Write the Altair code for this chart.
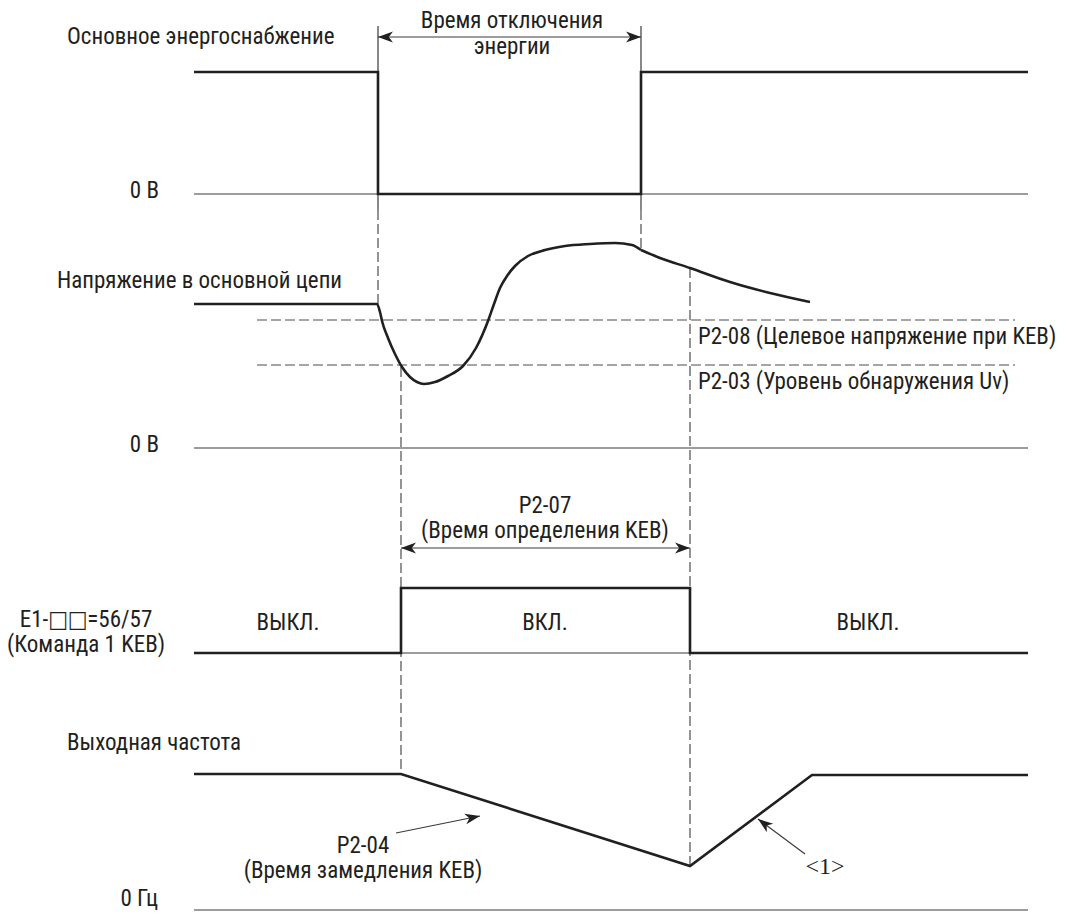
import math
import altair as alt
import pandas as pd

# ---------------- data (diagram coordinates: x = time, y grows downward) ----------------
power_x = [194, 378, 378, 641, 641, 1028]
power_y = [72, 72, 194, 194, 72, 72]

volt_a_x = [194, 377, 380, 382, 388, 395, 402, 410, 417, 424, 435, 448, 463, 476, 488, 494, 500, 507, 515, 528, 545, 565, 590, 615, 632, 641]
volt_a_y = [304, 304, 312, 321, 338, 354, 367, 377, 382, 384, 382, 376, 366, 348, 321, 304, 288, 276, 266, 256, 250, 246, 244, 243, 245, 250]
volt_b_x = [641, 660, 690, 730, 770, 810]
volt_b_y = [250, 258, 268, 282, 293, 302]

keb_x = [194, 401, 401, 690, 690, 1028]
keb_y = [653, 653, 588, 588, 653, 653]

freq_x = [194, 401, 690, 812, 1028]
freq_y = [774, 774, 866, 775, 775]

zero_levels = [194, 448, 653, 910]
zero_start, zero_end = 194, 1028

levels_y = [320, 365]          # P2-08, P2-03
levels_x = [257, 1015]

solid_v = [(378, 26, 210), (641, 26, 210)]
dashed_v = [(378, 210, 304), (641, 210, 250), (401, 367, 774), (690, 268, 866)]

arrows = [  # x1, y1, x2, y2, both_heads
    (378, 37, 641, 37, True),
    (401, 548, 690, 548, True),
    (396, 833, 480, 816, False),
    (805, 854, 758, 819, False),
]

labels_left = [
    ("Основное энергоснабжение", 67, 37),
    ("Напряжение в основной цепи", 57, 281),
    ("P2-08 (Целевое напряжение при KEB)", 698, 337),
    ("P2-03 (Уровень обнаружения Uv)", 698, 382),
    ("Выходная частота", 67, 743),
]
labels_center = [
    ("Время отключения", 512, 21),
    ("энергии", 512, 47),
    ("P2-07", 545, 506),
    ("(Время определения KEB)", 545, 531),
    ("E1-□□=56/57", 86, 620),
    ("(Команда 1 KEB)", 86, 645),
    ("ВЫКЛ.", 288, 623),
    ("ВКЛ.", 545, 623),
    ("ВЫКЛ.", 868, 623),
    ("P2-04", 363, 846),
    ("(Время замедления KEB)", 363, 871),
]
labels_right = [
    ("0 В", 159, 191),
    ("0 В", 159, 445),
    ("0 Гц", 158, 899),
]
labels_serif = [("<1>", 825, 867)]

# ---------------- build tables ----------------
W, H = 1053, 904
xs = alt.Scale(domain=[8, 8 + W], nice=False, zero=False)
ys = alt.Scale(domain=[8, 8 + H], nice=False, zero=False, reverse=True)

FONT = "Roboto Condensed, Liberation Sans Narrow, DejaVu Sans Condensed, sans-serif"
INK = "#231f20"
THIN = "#3a3a3a"
DASH = "#4d4d4d"
FS = 23


def trace(name, xv, yv):
    return pd.DataFrame({"series": name, "i": range(len(xv)), "x": xv, "y": yv})


steps = pd.concat([
    trace("power", power_x, power_y),
    trace("keb", keb_x, keb_y),
    trace("freq", freq_x, freq_y),
])
curves = pd.concat([
    trace("va", volt_a_x, volt_a_y),
    trace("vb", volt_b_x, volt_b_y),
])

thin_rows = [(zero_start, y, zero_end, y) for y in zero_levels]
thin_rows += [(x, a, x, b) for x, a, b in solid_v]
thin_rows += [(a[0], a[1], a[2], a[3]) for a in arrows]
thin = pd.DataFrame(thin_rows, columns=["x", "y", "x2", "y2"])

dash_rows = [(levels_x[0], y, levels_x[1], y) for y in levels_y]
dash_rows += [(x, a, x, b) for x, a, b in dashed_v]
dashed = pd.DataFrame(dash_rows, columns=["x", "y", "x2", "y2"])

heads = []
for x1, y1, x2, y2, both in arrows:
    ang = math.degrees(math.atan2(y2 - y1, x2 - x1)) % 360
    heads.append((x2, y2, ang))
    if both:
        heads.append((x1, y1, (ang + 180) % 360))
heads = pd.DataFrame(heads, columns=["x", "y", "angle"])

ARROW = "M0,0L-1,-0.36L-0.72,0L-1,0.36Z"


def enc_xy(ch):
    return ch.encode(
        x=alt.X("x:Q", scale=xs, axis=None),
        y=alt.Y("y:Q", scale=ys, axis=None),
    )


def text_layer(rows, align, font=FONT, size=FS, color=INK):
    df = pd.DataFrame(rows, columns=["t", "x", "y"])
    return enc_xy(
        alt.Chart(df).mark_text(align=align, baseline="middle", font=font,
                                fontSize=size, color=color)
    ).encode(text="t:N")


step_layer = alt.Chart(steps).mark_line(color=INK, strokeWidth=2.6, strokeJoin="miter").encode(
    x=alt.X("x:Q", scale=xs, axis=None),
    y=alt.Y("y:Q", scale=ys, axis=None),
    detail="series:N",
    order="i:Q",
)
curve_layer = alt.Chart(curves).mark_line(color=INK, strokeWidth=2.6, interpolate="monotone").encode(
    x=alt.X("x:Q", scale=xs, axis=None),
    y=alt.Y("y:Q", scale=ys, axis=None),
    detail="series:N",
    order="i:Q",
)
thin_layer = alt.Chart(thin).mark_rule(color=THIN, strokeWidth=1.2).encode(
    x=alt.X("x:Q", scale=xs, axis=None),
    y=alt.Y("y:Q", scale=ys, axis=None),
    x2="x2:Q", y2="y2:Q",
)
dash_layer = alt.Chart(dashed).mark_rule(color=DASH, strokeWidth=1.2, strokeDash=[10, 4]).encode(
    x=alt.X("x:Q", scale=xs, axis=None),
    y=alt.Y("y:Q", scale=ys, axis=None),
    x2="x2:Q", y2="y2:Q",
)
head_layer = alt.Chart(heads).mark_point(shape=ARROW, filled=True, color=INK, opacity=1,
                                         size=900, strokeWidth=0).encode(
    x=alt.X("x:Q", scale=xs, axis=None),
    y=alt.Y("y:Q", scale=ys, axis=None),
    angle=alt.Angle("angle:Q", scale=None),
)

chart = alt.layer(
    dash_layer,
    thin_layer,
    step_layer,
    curve_layer,
    head_layer,
    text_layer(labels_left, "left"),
    text_layer(labels_center, "center"),
    text_layer(labels_right, "right"),
    text_layer(labels_serif, "center", font="Liberation Serif, Times New Roman, serif", size=24),
).properties(
    width=W, height=H, padding=0, autosize=alt.AutoSizeParams(type="none"),
    background="white",
).configure_view(stroke=None)

chart.save("out.html", embed_options={"renderer": "svg", "actions": False})
